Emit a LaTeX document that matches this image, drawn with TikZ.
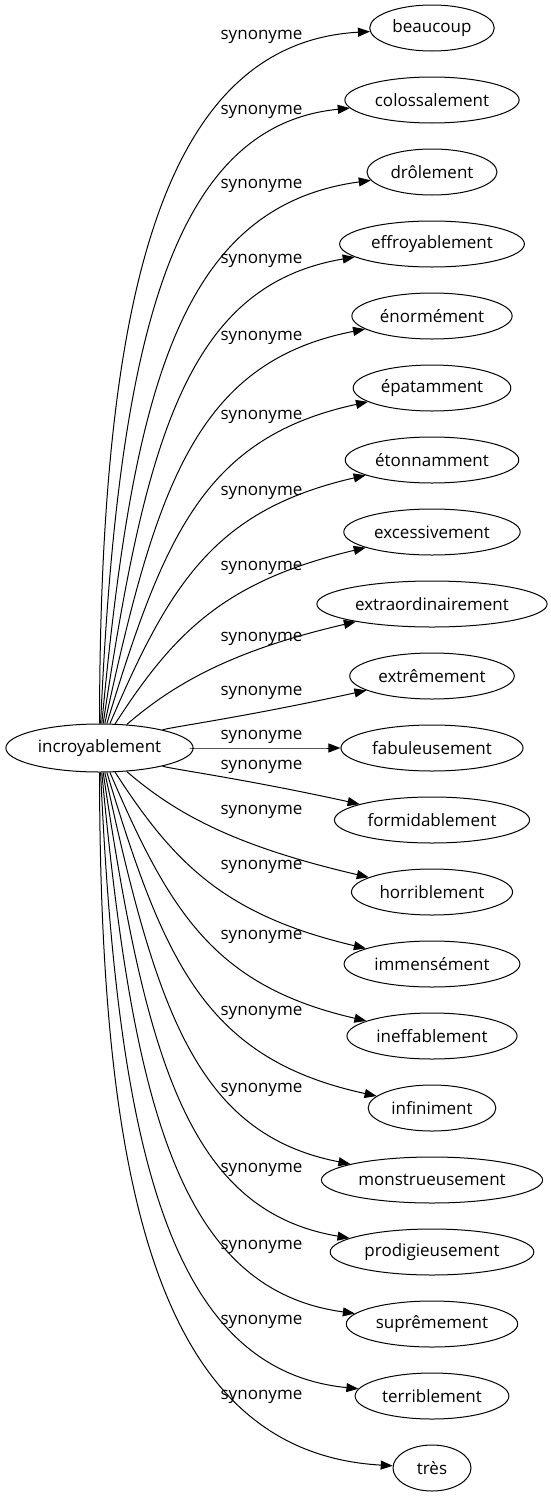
\documentclass[tikz,border=0pt]{standalone}
\usepackage{fontspec}
\setmainfont{Open Sans}
\usetikzlibrary{shapes.geometric,arrows.meta}

\begin{document}
\begin{tikzpicture}[x=1pt,y=-1pt,
    font=\fontsize{17}{20}\selectfont,
    word/.style={draw,ellipse,line width=1pt,inner xsep=4.5pt,inner ysep=0pt,
      minimum height=46pt,minimum width=78pt},
    rel/.style={line width=1pt,-{Triangle[length=12pt,width=9pt]}}]
  \useasboundingbox (0,0) rectangle (550,1499);
  % Head word
  \node[word,minimum height=48pt] (incr) at (99.5,748) {incroyablement};
  % Synonyms with the height of their label
  \foreach \word/\ly [count=\i from 0] in {beaucoup/37, colossalement/112,
      drôlement/186, effroyablement/261, énormément/338, épatamment/417,
      étonnamment/493, excessivement/568, extraordinairement/639,
      extrêmement/693, fabuleusement/737, formidablement/767,
      horriblement/812, immensément/867, ineffablement/937,
      infiniment/1013, monstrueusement/1090, prodigieusement/1170,
      suprêmement/1247, terriblement/1322, très/1397}{
    \pgfmathsetmacro\ty{28+72*\i}
    \pgfmathsetmacro\dist{abs(\ty-748)}
    \pgfmathsetmacro\sgn{sign(\ty-748)}
    \pgfmathsetmacro\cax{100+75*(1-((\dist-144)/576)^2)}
    \pgfmathsetmacro\cay{748+\sgn*\dist*0.62*(1-exp(-\dist/110))}
    \pgfmathsetmacro\cbx{252-0.128*\dist}
    \pgfmathsetmacro\cby{\ty-\sgn*(34.8+0.105*\dist-0.00019*\dist*\dist)}
    \node[word] (syn\i) at (432,\ty) {\word};
    \node (lab\i) at (261.5,\ly) {synonyme};
    \draw[rel] (incr) .. controls (\cax,\cay) and (\cbx,\cby) .. (syn\i);
  }
\end{tikzpicture}
\end{document}
